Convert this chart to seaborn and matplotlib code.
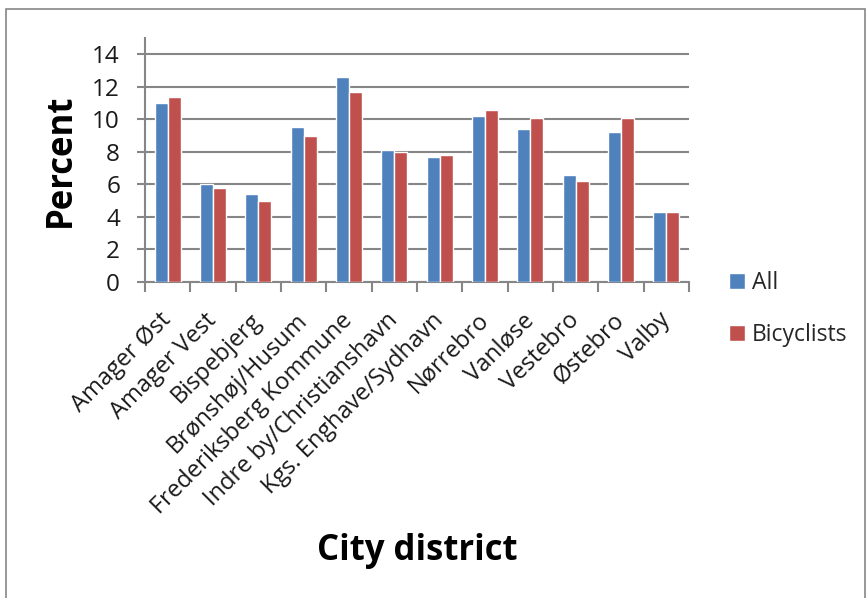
import matplotlib
matplotlib.use("Agg")
import matplotlib.pyplot as plt
import seaborn as sns
import pandas as pd
from matplotlib.patches import Rectangle
from matplotlib.ticker import FixedLocator

districts = ["Amager Øst", "Amager Vest", "Bispebjerg", "Brønshøj/Husum",
             "Frederiksberg Kommune", "Indre by/Christianshavn",
             "Kgs. Enghave/Sydhavn", "Nørrebro", "Vanløse", "Vestebro",
             "Østebro", "Valby"]
all_vals = [11.0, 6.0, 5.4, 9.5, 12.6, 8.1, 7.7, 10.2, 9.4, 6.6, 9.2, 4.3]
bike_vals = [11.4, 5.8, 5.0, 9.0, 11.7, 8.0, 7.8, 10.6, 10.1, 6.2, 10.1, 4.3]
series = ["All", "Bicyclists"]
yticks = [0, 2, 4, 6, 8, 10, 12, 14]

df = pd.DataFrame({
    "district": districts * 2,
    "value": all_vals + bike_vals,
    "series": [series[0]] * len(districts) + [series[1]] * len(districts),
})

sns.set_style("white")
plt.rcParams["font.family"] = ["Open Sans", "DejaVu Sans"]

W, H = 868, 598
fig = plt.figure(figsize=(W / 100, H / 100), dpi=100)
ax = fig.add_axes([145 / W, 1 - 282 / H, (689 - 145) / W, (282 - 38) / H])

palette = {"All": "#4F81BD", "Bicyclists": "#C0504D"}
sns.barplot(data=df, x="district", y="value", hue="series", palette=palette,
            width=0.575, ax=ax, saturation=1, legend=True, zorder=3)

ax.set_xlim(-0.5, len(districts) - 0.5)
ax.set_ylim(0, 15)
ax.set_yticks(yticks)
ax.yaxis.grid(True, color="#868686", linewidth=1.5, zorder=0)
ax.set_axisbelow(True)
for s in ["top", "right"]:
    ax.spines[s].set_visible(False)
for s in ["left", "bottom"]:
    ax.spines[s].set_color("#868686")
    ax.spines[s].set_linewidth(1.5)

ax.tick_params(axis="y", which="major", length=6, width=1.5, color="#868686",
               labelsize=17.5, left=True, pad=12, labelcolor="#1a1a1a")
ax.set_xticks(range(len(districts)))
ax.set_xticklabels(districts, rotation=45, ha="right", va="center",
                   rotation_mode="anchor", fontsize=17, color="#1a1a1a")
ax.tick_params(axis="x", which="major", length=0, pad=25)
ax.xaxis.set_minor_locator(FixedLocator([i - 0.5 for i in range(len(districts) + 1)]))
ax.tick_params(axis="x", which="minor", length=7, width=1.5, color="#868686",
               bottom=True)

ax.set_xlabel("City district", fontsize=25, fontweight="bold", color="black")
ax.xaxis.set_label_coords(0.5, (282 - 560) / 244)
ax.xaxis.label.set_va("baseline")
ax.set_ylabel("Percent", fontsize=25, fontweight="bold", color="black")
ax.yaxis.set_label_coords((61 - 145) / 544, 0.5)
ax.yaxis.label.set_va("center")

leg = ax.legend(loc="center left", bbox_to_anchor=(1.035, -0.11), frameon=False,
                fontsize=16.5, handlelength=0.7, handleheight=0.7,
                handletextpad=0.3, labelspacing=1.2)

fig.patches.append(Rectangle((6 / W, -0.01), (865 - 6) / W, 1 - 9 / H + 0.01,
                             transform=fig.transFigure, fill=False,
                             edgecolor="#868686", linewidth=1.2))

fig.savefig("out.png", dpi=100)
